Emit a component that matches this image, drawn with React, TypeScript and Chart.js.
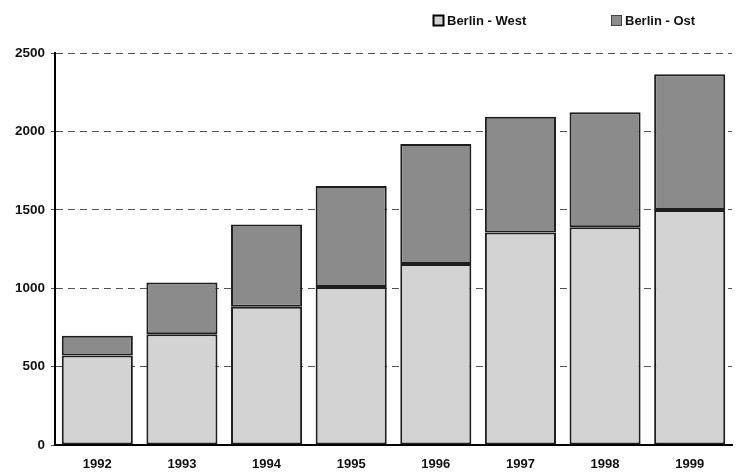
import React, { useEffect, useRef } from "react";
import { Chart, registerables } from "chart.js";

Chart.register(...registerables);

const categories = ["1992", "1993", "1994", "1995", "1996", "1997", "1998", "1999"];
const westValues = [570, 707, 881, 1007, 1154, 1356, 1388, 1499];
const ostValues = [126, 329, 526, 645, 766, 738, 734, 866];
const seriesLabels = ["Berlin - West", "Berlin - Ost"];
const yTicks = [0, 500, 1000, 1500, 2000, 2500];

const FONT = "'Liberation Sans', Arial, sans-serif";
const WEST_FILL = "#d3d3d3";
const OST_FILL = "#8b8b8b";
const BAR_BORDER = "#1e1e1e";

const legendPlugin = {
  id: "topLegend",
  afterDraw(chart: any) {
    const ctx = chart.ctx;
    const starts = [433, 611];
    const boxSize = 11;
    const boxTop = 15;
    ctx.save();
    ctx.font = `bold 13px ${FONT}`;
    ctx.textBaseline = "middle";
    ctx.textAlign = "left";
    chart.data.datasets.forEach((ds: any, i: number) => {
      const x = starts[i];
      ctx.fillStyle = ds.backgroundColor;
      ctx.fillRect(x, boxTop, boxSize, boxSize);
      ctx.lineWidth = i === 0 ? 2 : 1;
      ctx.strokeStyle = i === 0 ? "#000" : "#444";
      ctx.strokeRect(x + 0.5, boxTop + 0.5, boxSize - 1, boxSize - 1);
      ctx.fillStyle = "#111";
      ctx.fillText(ds.label, x + boxSize + 3, boxTop + boxSize / 2 + 0.5);
    });
    ctx.restore();
  },
};

export default function App() {
  const canvasRef = useRef<HTMLCanvasElement | null>(null);

  useEffect(() => {
    if (!canvasRef.current) return;
    const chart = new Chart(canvasRef.current, {
      type: "bar",
      data: {
        labels: categories,
        datasets: [
          {
            label: seriesLabels[0],
            data: westValues,
            backgroundColor: WEST_FILL,
            borderColor: BAR_BORDER,
            borderWidth: 2,
            borderSkipped: false,
            barPercentage: 0.84,
            categoryPercentage: 1,
          },
          {
            label: seriesLabels[1],
            data: ostValues,
            backgroundColor: OST_FILL,
            borderColor: BAR_BORDER,
            borderWidth: 2,
            borderSkipped: false,
            barPercentage: 0.84,
            categoryPercentage: 1,
          },
        ],
      },
      options: {
        animation: false,
        responsive: true,
        maintainAspectRatio: false,
        layout: { padding: { top: 53, right: 4, left: 0, bottom: 0 } },
        plugins: {
          legend: { display: false },
          tooltip: { enabled: false },
        },
        scales: {
          x: {
            stacked: true,
            grid: { display: false },
            border: { display: true, color: "#000", width: 2 },
            ticks: {
              color: "#111",
              font: { family: FONT, size: 13, weight: "bold" },
              padding: 4,
            },
            afterFit(scale: any) {
              scale.height = 28;
            },
          },
          y: {
            stacked: true,
            min: yTicks[0],
            max: yTicks[yTicks.length - 1],
            afterBuildTicks(scale: any) {
              scale.ticks = yTicks.map((v) => ({ value: v }));
            },
            grid: {
              color: "#555",
              lineWidth: 1,
              drawTicks: true,
              tickLength: 4,
              tickColor: "#555",
            },
            border: { display: true, color: "#000", width: 2, dash: [7, 5] },
            ticks: {
              color: "#111",
              font: { family: FONT, size: 13.5, weight: "bold" },
              padding: 6,
              callback: (v: any) => String(v),
            },
            afterFit(scale: any) {
              scale.width = 55;
            },
          },
        },
      },
      plugins: [legendPlugin],
    });
    return () => chart.destroy();
  }, []);

  return (
    <div style={{ position: "fixed", left: 0, top: 0, width: 736, height: 473, background: "#fff" }}>
      <canvas ref={canvasRef} style={{ width: "100%", height: "100%" }} />
    </div>
  );
}
